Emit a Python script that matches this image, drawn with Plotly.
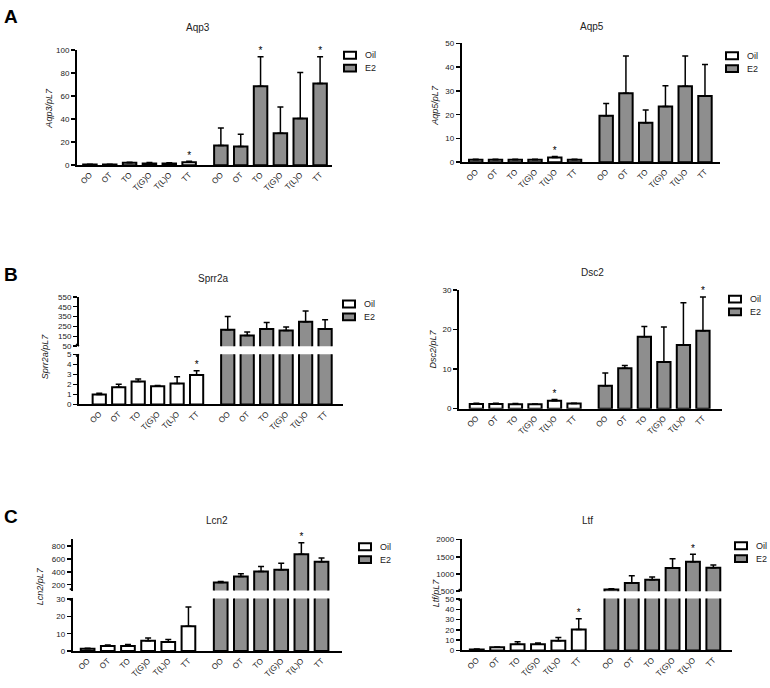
import plotly.graph_objects as go

W, H = 770, 688

# ---------------- data ----------------
categories = ["OO", "OT", "TO", "T(G)O", "T(L)O", "TT"]
groups = ["Oil", "E2"]

aqp3_oil_mean = [0.5, 0.5, 2.0, 1.5, 1.5, 2.5]
aqp3_oil_sem = [0.3, 0.3, 0.5, 0.8, 0.7, 1.0]
aqp3_e2_mean = [17.1, 16.3, 68.6, 27.7, 40.6, 71.0]
aqp3_e2_sem = [15.2, 10.6, 25.7, 22.9, 40.0, 23.3]
aqp3_stars = [("Oil", 5), ("E2", 2), ("E2", 5)]

aqp5_oil_mean = [1.0, 1.0, 1.0, 1.0, 2.0, 1.0]
aqp5_oil_sem = [0.2, 0.2, 0.2, 0.2, 0.4, 0.2]
aqp5_e2_mean = [19.6, 29.0, 16.6, 23.5, 32.0, 27.9]
aqp5_e2_sem = [5.1, 15.7, 5.4, 8.7, 12.7, 13.3]
aqp5_stars = [("Oil", 4)]

sprr2a_oil_mean = [0.99, 1.71, 2.30, 1.81, 2.10, 2.93]
sprr2a_oil_sem = [0.13, 0.30, 0.23, 0.07, 0.66, 0.43]
sprr2a_e2_mean = [217, 157, 223, 210, 297, 223]
sprr2a_e2_sem = [133, 36, 67, 33, 110, 94]
sprr2a_stars = [("Oil", 5)]

dsc2_oil_mean = [1.2, 1.2, 1.1, 1.1, 2.0, 1.3]
dsc2_oil_sem = [0.15, 0.15, 0.2, 0.05, 0.3, 0.05]
dsc2_e2_mean = [5.8, 10.25, 18.2, 11.8, 16.1, 19.75]
dsc2_e2_sem = [3.2, 0.65, 2.6, 8.9, 10.7, 8.55]
dsc2_stars = [("Oil", 4), ("E2", 5)]

lcn2_oil_mean = [1.3, 2.9, 2.9, 5.9, 5.2, 14.3]
lcn2_oil_sem = [0.3, 0.6, 0.9, 1.6, 1.5, 11.1]
lcn2_e2_mean = [236, 328, 405, 431, 672, 559]
lcn2_e2_sem = [15, 41, 77, 102, 179, 56]
lcn2_stars = [("E2", 4)]

ltf_oil_mean = [1.0, 3.0, 6.0, 6.0, 9.5, 20.5]
ltf_oil_sem = [0.3, 0.3, 2.5, 1.2, 3.0, 10.5]
ltf_e2_mean = [548, 740, 837, 1173, 1355, 1180]
ltf_e2_sem = [20, 212, 77, 269, 221, 86]
ltf_stars = [("Oil", 5), ("E2", 4)]

# ---------------- layout helpers ----------------
def fx(p):
    return p / W


def fy(p):
    return 1 - p / H


FONT = "Liberation Sans, Arial, sans-serif"
GROUP_GAP = 6.6
FILL = {"Oil": "white", "E2": "#8e8e8e"}

panels = [
    dict(gene="Aqp3", data=(aqp3_oil_mean, aqp3_oil_sem, aqp3_e2_mean, aqp3_e2_sem), stars=aqp3_stars,
         xdom=(77, 332), xrange=(-0.65, 12.2),
         segs=[dict(ydom=(163.3, 46.7), yrange=(0, 100), ticks=[0, 20, 40, 60, 80, 100])],
         title=(198, 24), ytitle=(49, 105), legend=(344, 52)),
    dict(gene="Aqp5", data=(aqp5_oil_mean, aqp5_oil_sem, aqp5_e2_mean, aqp5_e2_sem), stars=aqp5_stars,
         xdom=(461.7, 720), xrange=(-0.71, 12.36),
         segs=[dict(ydom=(160.3, 40), yrange=(0, 50), ticks=[0, 10, 20, 30, 40, 50])],
         title=(592, 23), ytitle=(435, 103), legend=(726, 52.5)),
    dict(gene="Sprr2a", data=(sprr2a_oil_mean, sprr2a_oil_sem, sprr2a_e2_mean, sprr2a_e2_sem), stars=sprr2a_stars,
         xdom=(79, 343), xrange=(-1.04, 12.52),
         segs=[dict(ydom=(405.7, 355), yrange=(0, 5), ticks=[0, 1, 2, 3, 4, 5]),
               dict(ydom=(346.7, 296.7), yrange=(50, 550), ticks=[50, 150, 250, 350, 450, 550])],
         title=(213, 278), ytitle=(45, 357), legend=(343, 304)),
    dict(gene="Dsc2", data=(dsc2_oil_mean, dsc2_oil_sem, dsc2_e2_mean, dsc2_e2_sem), stars=dsc2_stars,
         xdom=(459, 721.7), xrange=(-0.89, 12.56),
         segs=[dict(ydom=(410, 290), yrange=(0, 30), ticks=[0, 10, 20, 30])],
         title=(592, 272), ytitle=(433, 350), legend=(729, 299)),
    dict(gene="Lcn2", data=(lcn2_oil_mean, lcn2_oil_sem, lcn2_e2_mean, lcn2_e2_sem), stars=lcn2_stars,
         xdom=(72.7, 341.7), xrange=(-0.74, 12.6),
         segs=[dict(ydom=(655.7, 602.3), yrange=(0, 30.3), ticks=[0, 10, 20, 30]),
               dict(ydom=(594.3, 541.7), yrange=(110, 917), ticks=[200, 400, 600, 800])],
         title=(217, 523), ytitle=(40, 590), legend=(359, 550)),
    dict(gene="Ltf", data=(ltf_oil_mean, ltf_oil_sem, ltf_e2_mean, ltf_e2_sem), stars=ltf_stars,
         xdom=(461.7, 731.7), xrange=(-0.74, 12.5),
         segs=[dict(ydom=(655, 602.5), yrange=(0, 50.5), ticks=[0, 10, 20, 30, 40, 50]),
               dict(ydom=(595, 541.7), yrange=(500, 2030), ticks=[500, 1000, 1500, 2000])],
         title=(587, 523), ytitle=(436, 597), legend=(735, 549)),
]

fig = go.Figure()
annotations = []
shapes = []
layout_axes = {}
n = 0
positions = {"Oil": list(range(len(categories))),
             "E2": [i + GROUP_GAP for i in range(len(categories))]}
tickvals = positions["Oil"] + positions["E2"]
ticktext = categories + categories

for pi, p in enumerate(panels):
    oil_m, oil_s, e2_m, e2_s = p["data"]
    series = {"Oil": (oil_m, oil_s), "E2": (e2_m, e2_s)}
    first_x = None
    for si, seg in enumerate(p["segs"]):
        n += 1
        xid = "x" if n == 1 else f"x{n}"
        yid = "y" if n == 1 else f"y{n}"
        xkey = "xaxis" if n == 1 else f"xaxis{n}"
        ykey = "yaxis" if n == 1 else f"yaxis{n}"
        if si == 0:
            first_x = xid
            layout_axes[xkey] = dict(
                domain=[fx(p["xdom"][0]), fx(p["xdom"][1])], range=list(p["xrange"]),
                anchor=yid, showline=True, linewidth=2, linecolor="black",
                tickmode="array", tickvals=tickvals, ticktext=ticktext, tickangle=-45,
                ticks="", showgrid=False, zeroline=False,
                tickfont=dict(size=8, color="#222", family=FONT))
        else:
            layout_axes[xkey] = dict(
                domain=[fx(p["xdom"][0]), fx(p["xdom"][1])], range=list(p["xrange"]),
                anchor=yid, matches=first_x, visible=False)
        layout_axes[ykey] = dict(
            domain=[fy(seg["ydom"][0]), fy(seg["ydom"][1])], range=list(seg["yrange"]),
            anchor=xid, showline=True, linewidth=2, linecolor="black",
            ticks="outside", ticklen=4, tickwidth=1.5, tickcolor="black",
            tickmode="array", tickvals=seg["ticks"], showgrid=False, zeroline=False,
            tickfont=dict(size=8, color="#222", family=FONT))
        for g in groups:
            m, s = series[g]
            fig.add_trace(go.Bar(
                x=positions[g], y=m, width=0.68, name=g,
                marker=dict(color=FILL[g], line=dict(color="black", width=2)),
                error_y=dict(type="data", array=s, arrayminus=[0] * len(s), symmetric=False,
                             color="black", thickness=1.5, width=3),
                xaxis=xid, yaxis=yid, showlegend=False, hoverinfo="skip"))
        # significance marks
        sx, sy = [], []
        lo, hi = seg["yrange"]
        for g, idx in p["stars"]:
            m, s = series[g]
            top = m[idx] + s[idx]
            if lo <= top <= hi:
                sx.append(positions[g][idx])
                sy.append(top)
        if sx:
            fig.add_trace(go.Scatter(
                x=sx, y=sy, mode="text", text=["*"] * len(sx), textposition="top center",
                textfont=dict(size=10, color="black", family=FONT), cliponaxis=False,
                xaxis=xid, yaxis=yid, showlegend=False, hoverinfo="skip"))
    # break marks on broken axes
    if len(p["segs"]) > 1:
        ax = p["xdom"][0]
        yb = p["segs"][1]["ydom"][0]
        yt = p["segs"][0]["ydom"][1]
        for (x0, y0, x1, y1) in [(ax, yb, ax - 3, yb - 2), (ax, yt, ax - 3, yt + 2)]:
            shapes.append(dict(type="line", xref="paper", yref="paper",
                               x0=fx(x0), y0=fy(y0), x1=fx(x1), y1=fy(y1),
                               line=dict(color="black", width=1.5)))
    # title and y-axis title
    annotations.append(dict(x=fx(p["title"][0]), y=fy(p["title"][1]), xref="paper", yref="paper",
                            xanchor="center", yanchor="middle",
                            text=p["gene"], showarrow=False, font=dict(size=10, color="#222", family=FONT)))
    annotations.append(dict(x=fx(p["ytitle"][0]), y=fy(p["ytitle"][1]), xref="paper", yref="paper",
                            xanchor="center", yanchor="middle",
                            text=f"<i>{p['gene']}/pL7</i>", textangle=-90, showarrow=False,
                            font=dict(size=9, color="#222", family=FONT)))
    # legend (box + label per group)
    lx, ly = p["legend"]
    for gi, g in enumerate(groups):
        cy = ly + gi * 13
        shapes.append(dict(type="rect", xref="paper", yref="paper",
                           x0=fx(lx), x1=fx(lx + 12), y0=fy(cy - 3.5), y1=fy(cy + 3.5),
                           fillcolor=FILL[g], line=dict(color="black", width=2)))
        annotations.append(dict(x=fx(lx + 19), y=fy(cy), xref="paper", yref="paper",
                                xanchor="left", yanchor="middle", text=g, showarrow=False,
                                font=dict(size=9, color="#222", family=FONT)))

for letter, (lx, ly) in zip(["A", "B", "C"], [(11, 13), (11, 274), (11, 519)]):
    annotations.append(dict(x=fx(lx), y=fy(ly), xref="paper", yref="paper", text=f"<b>{letter}</b>",
                            xanchor="center", yanchor="middle",
                            showarrow=False, font=dict(size=19, color="black", family=FONT)))

fig.update_layout(
    width=W, height=H, margin=dict(l=0, r=0, t=0, b=0),
    paper_bgcolor="white", plot_bgcolor="white", showlegend=False,
    barmode="overlay", annotations=annotations, shapes=shapes, font=dict(family=FONT),
    **layout_axes)

fig.write_html("out.html",
               config={"displayModeBar": False, "staticPlot": True},
               post_script="document.body.style.margin='0px';document.body.style.overflow='hidden';")
